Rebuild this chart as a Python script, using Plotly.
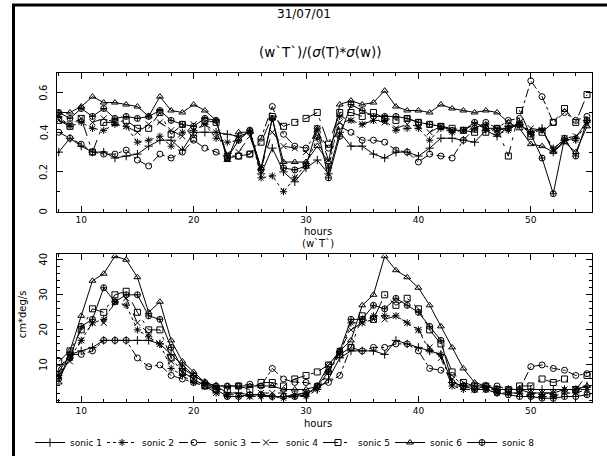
import plotly.graph_objects as go

hours = list(range(8, 56))

series_names = ["sonic 1", "sonic 2", "sonic 3", "sonic 4", "sonic 5", "sonic 6", "sonic 8"]

# top panel: (w'T')/(sigma(T)*sigma(w))
corr_s1 = [0.30, 0.37, 0.33, 0.30, 0.30, 0.27, 0.28, 0.29, 0.33, 0.36,
           0.36, 0.31, 0.40, 0.40, 0.40, 0.39, 0.38, 0.40, 0.19, 0.32,
           0.20, 0.15, 0.22, 0.26, 0.19, 0.40, 0.33, 0.33, 0.29, 0.27,
           0.30, 0.30, 0.28, 0.32, 0.37, 0.37, 0.36, 0.35, 0.41, 0.38,
           0.43, 0.44, 0.40, 0.42, 0.30, 0.36, 0.37, 0.46]
corr_s2 = [0.48, 0.43, 0.45, 0.42, 0.41, 0.44, 0.43, 0.35, 0.36, 0.38,
           0.33, 0.40, 0.41, 0.44, 0.37, 0.35, 0.36, 0.41, 0.17, 0.18,
           0.10, 0.17, 0.24, 0.37, 0.22, 0.48, 0.46, 0.44, 0.46, 0.46,
           0.41, 0.42, 0.42, 0.36, 0.42, 0.40, 0.41, 0.42, 0.44, 0.39,
           0.41, 0.45, 0.40, 0.41, 0.32, 0.36, 0.36, 0.45]
corr_s3 = [0.40, 0.37, 0.34, 0.30, 0.29, 0.29, 0.31, 0.26, 0.23, 0.29,
           0.27, 0.30, 0.36, 0.32, 0.30, 0.27, 0.28, 0.29, 0.37, 0.53,
           0.39, 0.33, 0.32, 0.40, 0.32, 0.43, 0.40, 0.36, 0.36, 0.35,
           0.31, 0.30, 0.25, 0.29, 0.28, 0.27, 0.36, 0.42, 0.45, 0.42,
           0.46, 0.47, 0.66, 0.58, 0.45, 0.50, 0.46, 0.48]
corr_s4 = [0.46, 0.44, 0.47, 0.45, 0.47, 0.45, 0.43, 0.40, 0.44, 0.45,
           0.41, 0.38, 0.44, 0.44, 0.40, 0.29, 0.30, 0.38, 0.22, 0.40,
           0.33, 0.32, 0.30, 0.42, 0.26, 0.45, 0.46, 0.44, 0.46, 0.45,
           0.42, 0.44, 0.43, 0.40, 0.43, 0.41, 0.41, 0.44, 0.42, 0.41,
           0.42, 0.44, 0.42, 0.41, 0.31, 0.37, 0.38, 0.44]
corr_s5 = [0.46, 0.43, 0.47, 0.30, 0.45, 0.45, 0.46, 0.42, 0.42, 0.50,
           0.39, 0.44, 0.37, 0.46, 0.45, 0.28, 0.28, 0.29, 0.35, 0.48,
           0.43, 0.45, 0.47, 0.50, 0.34, 0.50, 0.50, 0.48, 0.50, 0.47,
           0.46, 0.47, 0.45, 0.44, 0.43, 0.42, 0.41, 0.40, 0.40, 0.42,
           0.28, 0.51, 0.38, 0.40, 0.45, 0.52, 0.45, 0.59]
corr_s6 = [0.50, 0.50, 0.53, 0.58, 0.55, 0.55, 0.54, 0.53, 0.48, 0.58,
           0.51, 0.50, 0.54, 0.51, 0.46, 0.26, 0.40, 0.40, 0.22, 0.47,
           0.25, 0.25, 0.25, 0.33, 0.25, 0.54, 0.56, 0.54, 0.55, 0.61,
           0.53, 0.51, 0.51, 0.50, 0.54, 0.52, 0.51, 0.50, 0.51, 0.50,
           0.45, 0.42, 0.34, 0.33, 0.30, 0.35, 0.30, 0.43]
corr_s8 = [0.50, 0.47, 0.52, 0.48, 0.52, 0.47, 0.48, 0.47, 0.48, 0.51,
           0.46, 0.44, 0.43, 0.47, 0.46, 0.27, 0.36, 0.41, 0.21, 0.47,
           0.22, 0.21, 0.23, 0.42, 0.17, 0.38, 0.54, 0.51, 0.48, 0.48,
           0.48, 0.47, 0.45, 0.44, 0.43, 0.41, 0.41, 0.45, 0.42, 0.42,
           0.42, 0.44, 0.39, 0.27, 0.09, 0.37, 0.28, 0.46]

# bottom panel: (w'T') in cm*deg/s
flux_s1 = [8, 13, 14, 15, 17, 17, 17, 17, 17, 16,
           13, 10, 7, 5, 4, 2, 2, 1.5, 1.5, 1,
           1, 1.5, 2, 3, 6, 12, 14, 14, 14, 13,
           17, 16, 15, 14, 13, 5, 4, 4, 4, 3,
           3, 3, 3, 3, 3, 3, 3, 4]
flux_s2 = [7, 12, 17, 22, 23, 28, 27, 20, 18, 16,
           9, 7, 5, 4, 2, 1, 1, 1, 1, 1,
           0.5, 1, 1, 3, 8, 13, 22, 22, 24, 24,
           24, 22, 20, 14, 13, 4, 3, 3, 3, 2,
           2, 2, 1, 1, 1, 2, 2, 3]
flux_s3 = [9, 13, 13, 14, 17, 17, 17, 12, 9.5, 10,
           7, 6, 5, 4, 4, 4, 4, 4.5, 4, 9,
           6, 5, 5, 4, 5, 7, 15, 14, 15, 15,
           16, 16, 14, 9, 8.5, 7, 4, 3, 4, 4,
           3, 3, 9.5, 10, 9, 8.5, 7, 7.5]
flux_s4 = [7, 11, 17, 22, 22, 28, 29, 22, 19, 16,
           11, 8, 6, 4, 2, 1.5, 1.5, 1, 2, 2,
           2, 1.5, 2, 4, 9, 14, 20, 22, 23, 23,
           24, 22, 20, 15, 12, 4, 4, 3, 3, 3,
           2, 2, 2, 2, 2, 3, 3, 3]
flux_s5 = [11, 14, 20, 26, 25, 30, 31, 25, 20, 20,
           12, 8, 6, 4, 3, 3, 4, 3, 5, 5,
           4, 6, 7, 8, 10, 13, 15, 24, 23, 30,
           27, 29, 26, 20, 16, 8, 5, 4, 4, 3,
           3, 4, 4, 6, 5, 6, 3, 7]
flux_s6 = [5, 14, 24, 34, 36, 41, 40, 35, 25, 28,
           17, 11, 8, 5, 4, 4, 4, 4, 4, 4,
           3, 3, 3, 4, 10, 14, 17, 27, 30, 41,
           37, 35, 32, 27, 21, 15, 9, 5, 4, 3,
           3, 3, 2, 2, 2, 3, 3, 4]
flux_s8 = [6, 12, 21, 23, 32, 28, 30, 30, 24, 23,
           15, 9, 7, 5, 3, 1, 1, 1.5, 1.5, 1,
           1, 1, 1.5, 4, 8, 14, 23, 23, 27, 26,
           29, 27, 25, 21, 17, 5, 4, 3, 3, 2,
           1.5, 1, 1, 0.5, 0.5, 1, 1, 1.5]

# tick labels
x_ticks = [10, 20, 30, 40, 50]
corr_ticks = [0, 0.2, 0.4, 0.6]
corr_tick_labels = ["0", "0.2", "0.4", "0.6"]
flux_ticks = [10, 20, 30, 40]
flux_tick_labels = ["10", "20", "30", "40"]

corr_data = [corr_s1, corr_s2, corr_s3, corr_s4, corr_s5, corr_s6, corr_s8]
flux_data = [flux_s1, flux_s2, flux_s3, flux_s4, flux_s5, flux_s6, flux_s8]

symbols = ["cross-thin-open", "asterisk-open", "circle-open", "x-thin-open",
           "square-open", "triangle-up-open", "circle-cross-open"]
dashes = ["solid", "dot", "dashdot", "dash", "longdashdot", "solid", "solid"]

W, H = 607, 457
def px_x(x):
    return x / W
def px_y(y):
    return 1 - y / H

FONT = "DejaVu Sans"
fig = go.Figure()

for i, name in enumerate(series_names):
    common = dict(
        mode="lines+markers",
        name=name,
        legendgroup=name,
        line=dict(color="black", width=1, dash=dashes[i]),
        marker=dict(symbol=symbols[i], size=6, color="black",
                    line=dict(color="black", width=1)),
    )
    fig.add_trace(go.Scatter(x=hours, y=corr_data[i], xaxis="x", yaxis="y",
                             showlegend=True, **common))
    fig.add_trace(go.Scatter(x=hours, y=flux_data[i], xaxis="x2", yaxis="y2",
                             showlegend=False, **common))

xdom = [px_x(56.5), px_x(591.5)]
axis_common = dict(showline=True, linecolor="black", linewidth=1, mirror="ticks",
                   ticks="inside", ticklen=6, tickcolor="black", showgrid=False,
                   zeroline=False, tickfont=dict(family=FONT, size=9, color="black"),
                   automargin=False)

fig.update_layout(
    width=W, height=H,
    margin=dict(l=0, r=0, t=0, b=0),
    paper_bgcolor="white", plot_bgcolor="white",
    font=dict(family=FONT, size=10, color="black"),
    xaxis=dict(domain=xdom, anchor="y", range=[7.8, 55.4],
               tickvals=x_ticks,
               minor=dict(dtick=2, tick0=0, ticks="inside", ticklen=3, tickcolor="black"),
               **axis_common),
    yaxis=dict(domain=[px_y(212), px_y(73)], anchor="x", range=[0, 0.70],
               tickvals=corr_ticks, showticklabels=False,
               minor=dict(dtick=0.1, tick0=0, ticks="inside", ticklen=3, tickcolor="black"),
               **axis_common),
    xaxis2=dict(domain=xdom, anchor="y2", range=[7.8, 55.4],
                tickvals=x_ticks,
                minor=dict(dtick=2, tick0=0, ticks="inside", ticklen=3, tickcolor="black"),
                **axis_common),
    yaxis2=dict(domain=[px_y(403), px_y(255)], anchor="x2", range=[-0.6, 41.5],
                tickvals=flux_ticks, showticklabels=False,
                minor=dict(dtick=2, tick0=0, ticks="inside", ticklen=3, tickcolor="black"),
                **axis_common),
    legend=dict(orientation="h", x=px_x(30), y=px_y(443), xanchor="left", yanchor="middle",
                font=dict(family=FONT, size=9, color="black"),
                itemwidth=30, entrywidth=27, entrywidthmode="pixels",
                bgcolor="rgba(0,0,0,0)", tracegroupgap=0),
    showlegend=True,
)

# rotated y tick labels (placed on the axes' own scales)
for v, t in zip(corr_ticks, corr_tick_labels):
    fig.add_annotation(xref="paper", yref="y", x=px_x(44), y=v, text=t, textangle=-90,
                       showarrow=False, xanchor="center", yanchor="middle",
                       font=dict(family=FONT, size=10, color="black"))
for v, t in zip(flux_ticks, flux_tick_labels):
    fig.add_annotation(xref="paper", yref="y2", x=px_x(44), y=v, text=t, textangle=-90,
                       showarrow=False, xanchor="center", yanchor="middle",
                       font=dict(family=FONT, size=10, color="black"))

annotations = [
    dict(text="31/07/01", x=0.5, y=px_y(14), size=12),
    dict(text="(w`T`)/(<i>σ</i>(T)*<i>σ</i>(w))", x=px_x(321), y=px_y(52), size=13.5),
    dict(text="hours", x=px_x(318), y=px_y(232), size=10),
    dict(text="(w`T`)", x=px_x(318), y=px_y(244), size=10),
    dict(text="hours", x=px_x(318), y=px_y(424), size=10),
    dict(text="cm*deg/s", x=px_x(22), y=px_y(315), size=10, textangle=-90),
]
for a in annotations:
    sz = a.pop("size")
    fig.add_annotation(xref="paper", yref="paper", showarrow=False,
                       xanchor="center", yanchor="middle",
                       font=dict(family=FONT, size=sz, color="black"), **a)

# page frame
fig.add_shape(type="line", xref="paper", yref="paper",
              x0=px_x(13.5), x1=px_x(13.5), y0=0, y1=px_y(4),
              line=dict(color="black", width=3))
fig.add_shape(type="line", xref="paper", yref="paper",
              x0=px_x(12), x1=1, y0=px_y(5), y1=px_y(5),
              line=dict(color="black", width=3))

fig.write_html("out.html", config={"displayModeBar": False},
               post_script="document.body.style.margin='0px';document.body.style.overflow='hidden';")
